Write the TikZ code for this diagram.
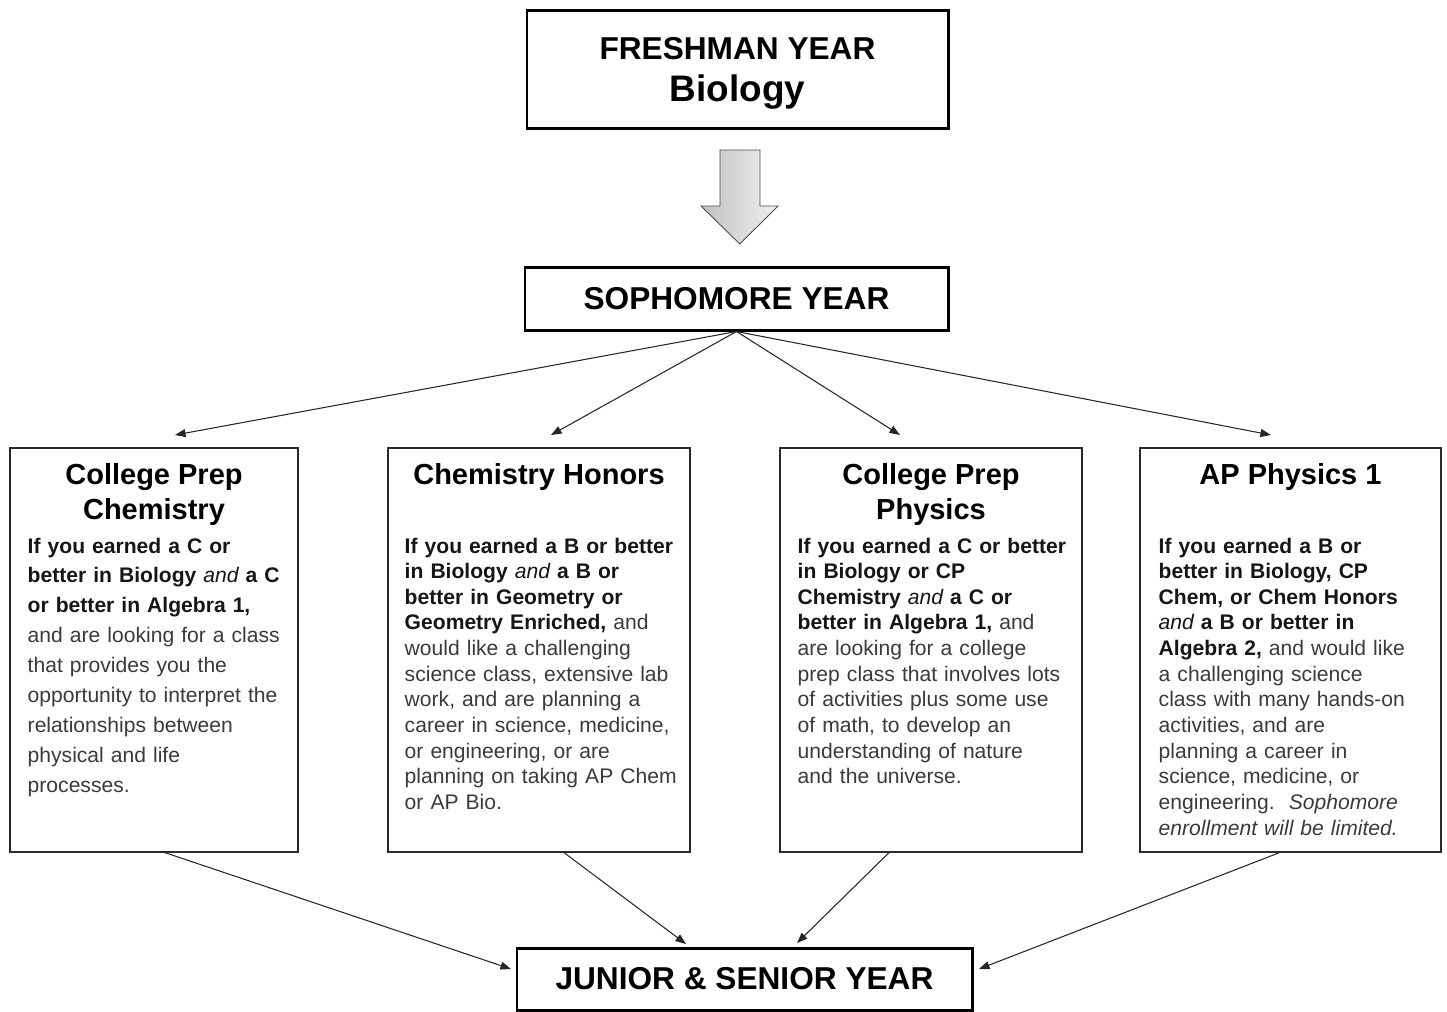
\documentclass[tikz,border=0pt]{standalone}
\usepackage{fontspec}
\setmainfont{Liberation Sans}
\usetikzlibrary{arrows.meta}
\definecolor{bodygray}{HTML}{3A3A3A}
\definecolor{reqblack}{HTML}{151515}
\definecolor{framegray}{HTML}{2A2A2A}
\newcommand{\req}[1]{{\color{reqblack}\bfseries #1}}
\newcommand{\andit}{{\mdseries\itshape and}}
\tikzset{
  year/.style={draw,line width=1.7pt,align=center,inner sep=0pt,
    font=\fontsize{18pt}{23pt}\selectfont\bfseries},
  course/.style={draw=framegray,line width=0.7pt,minimum height=8.08cm,inner sep=0pt},
  coursehead/.style={anchor=north,inner sep=0pt,align=center,
    font=\fontsize{16.5pt}{19.8pt}\selectfont\bfseries},
  coursebody/.style={anchor=north west,inner sep=0pt,align=left,text=bodygray,
    font=\fontsize{12pt}{14.6pt}\selectfont},
  link/.style={->,draw=black!85,line width=0.6pt}
}

\begin{document}
\begin{tikzpicture}[>={Triangle[length=6pt,width=4.5pt]}]
  \useasboundingbox (0,0) rectangle (28.94,-20.22);

  % year boxes
  \node[year,minimum width=8.42cm,minimum height=2.36cm] (fresh) at (14.75,-1.38)
    {\rule{0pt}{17.6pt}FRESHMAN YEAR\\[0.6pt]{\fontsize{21pt}{23pt}\selectfont Biology}};
  \node[year,minimum width=8.46cm,minimum height=1.26cm] (soph) at (14.73,-5.97) {SOPHOMORE YEAR};
  \node[year,minimum width=9.10cm,minimum height=1.24cm] (junior) at (14.89,-19.58) {JUNIOR \& SENIOR YEAR};

  % block arrow
  \draw[draw=black!70,line width=0.5pt,left color=black!24,right color=black!6]
    (14.40,-3.00) -- (15.20,-3.00) -- (15.20,-4.12) -- (15.56,-4.12)
    -- (14.795,-4.88) -- (14.02,-4.12) -- (14.40,-4.12) -- cycle;

  % course boxes
  \node[course,minimum width=5.76cm] (cpc) at (3.08,-13.0) {};
  \node[course,minimum width=6.04cm] (chh) at (10.78,-13.0) {};
  \node[course,minimum width=6.04cm] (cpp) at (18.62,-13.0) {};
  \node[course,minimum width=6.02cm] (app) at (25.81,-13.0) {};

  \node[coursehead] (cpchead) at ([yshift=-0.32cm]cpc.north) {College Prep\\Chemistry};
  \node[coursehead] (chhhead) at ([yshift=-0.32cm]chh.north) {Chemistry Honors};
  \node[coursehead] (cpphead) at ([yshift=-0.32cm]cpp.north) {College Prep\\Physics};
  \node[coursehead] (apphead) at ([yshift=-0.32cm]app.north) {AP Physics 1};

  \node[coursebody,text width=5.3cm,font=\fontsize{12pt}{17pt}\selectfont] (cpcbody)
    at ([xshift=0.36cm,yshift=-1.8cm]cpc.north west)
    {\req{If you earned a C or\\better in Biology \andit{} a C\\or better in Algebra 1,}\\
     and are looking for a class\\that provides you the\\opportunity to interpret the\\
     relationships between\\physical and life\\processes.};
  \node[coursebody,text width=5.6cm] (chhbody)
    at ([xshift=0.34cm,yshift=-1.8cm]chh.north west)
    {\req{If you earned a B or better\\in Biology \andit{} a B or\\better in Geometry or\\
     Geometry Enriched,} and\\would like a challenging\\science class, extensive lab\\
     work, and are planning a\\career in science, medicine,\\or engineering, or are\\
     planning on taking AP Chem\\or AP Bio.};
  \node[coursebody,text width=5.6cm] (cppbody)
    at ([xshift=0.36cm,yshift=-1.8cm]cpp.north west)
    {\req{If you earned a C or better\\in Biology or CP\\Chemistry \andit{} a C or\\
     better in Algebra 1,} and\\are looking for a college\\prep class that involves lots\\
     of activities plus some use\\of math, to develop an\\understanding of nature\\
     and the universe.};
  \node[coursebody,text width=5.6cm] (appbody)
    at ([xshift=0.38cm,yshift=-1.8cm]app.north west)
    {\req{If you earned a B or\\better in Biology, CP\\Chem, or Chem Honors\\
     \andit{} a B or better in\\Algebra 2,} and would like\\a challenging science\\
     class with many hands-on\\activities, and are\\planning a career in\\
     science, medicine, or\\engineering.\ \ \textit{Sophomore}\\\textit{enrollment will be limited.}};

  % arrow ends
  \coordinate (t1) at (3.50,-8.70);
  \coordinate (t2) at (11.02,-8.70);
  \coordinate (t3) at (18.00,-8.70);
  \coordinate (t4) at (25.42,-8.70);
  \coordinate (b1) at (10.22,-19.38);
  \coordinate (b2) at (13.72,-18.88);
  \coordinate (b3) at (15.94,-18.86);
  \coordinate (b4) at (19.58,-19.38);

  \draw[link] (soph.south) -- (t1);
  \draw[link] (soph.south) -- (t2);
  \draw[link] (soph.south) -- (t3);
  \draw[link] (soph.south) -- (t4);

  \draw[link] ([xshift=0.22cm]cpc.south) -- (b1);
  \draw[link] ([xshift=0.50cm]chh.south) -- (b2);
  \draw[link] ([xshift=-0.84cm]cpp.south) -- (b3);
  \draw[link] ([xshift=-0.22cm]app.south) -- (b4);
\end{tikzpicture}
\end{document}
